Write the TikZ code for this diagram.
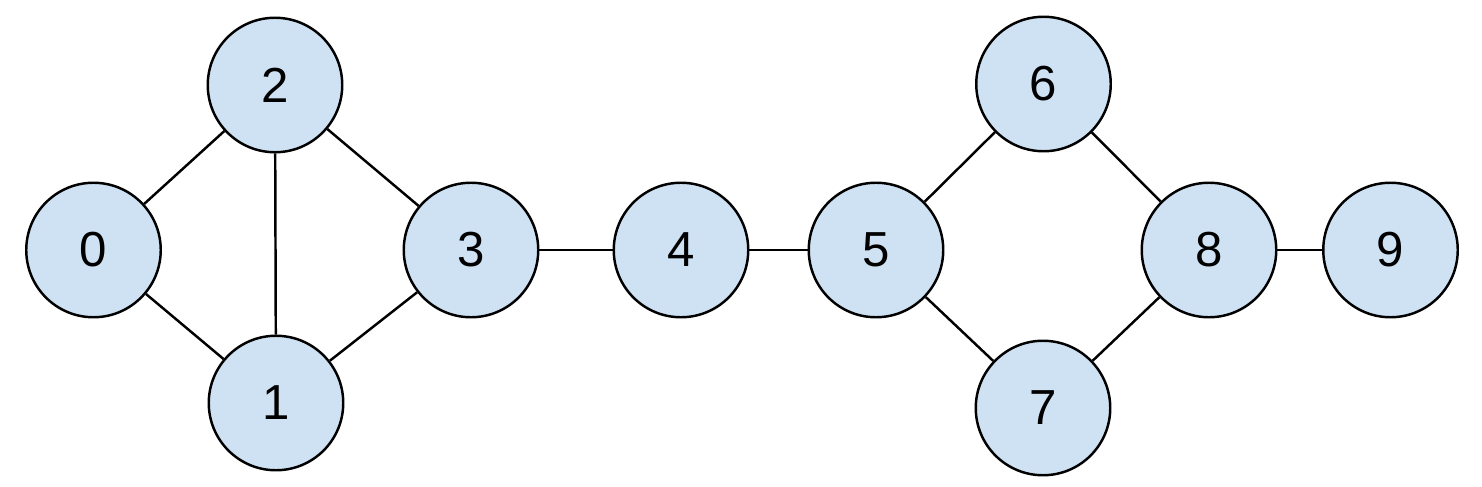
\documentclass[tikz,border=0pt]{standalone}
\usepackage{fontspec}
\setmainfont{Liberation Sans}
\usetikzlibrary{positioning}
\definecolor{vfill}{HTML}{CFE2F3}

\begin{document}
\begin{tikzpicture}[font=\fontsize{28}{30}\selectfont,
    vert/.style={circle,draw=black,fill=vfill,line width=1.4pt,minimum size=2.69cm,inner sep=0pt},
    edge/.style={line width=1.4pt}]
  \useasboundingbox (0,0) rectangle (29.64,9.72);
  \foreach \n/\x/\y in {0/1.87/4.72, 2/5.50/8.02, 1/5.52/1.66, 3/9.42/4.72,
                        4/13.62/4.72, 5/17.52/4.72, 6/20.87/8.04, 7/20.86/1.56,
                        8/24.18/4.72, 9/27.81/4.72} {
    \node[vert] (v\n) at (\x,\y) {\n};
  }
  \foreach \a/\b in {0/2, 0/1, 2/1, 2/3, 1/3, 3/4, 4/5, 5/6, 5/7, 6/8, 7/8, 8/9} {
    \draw[edge] (v\a) -- (v\b);
  }
\end{tikzpicture}
\end{document}
